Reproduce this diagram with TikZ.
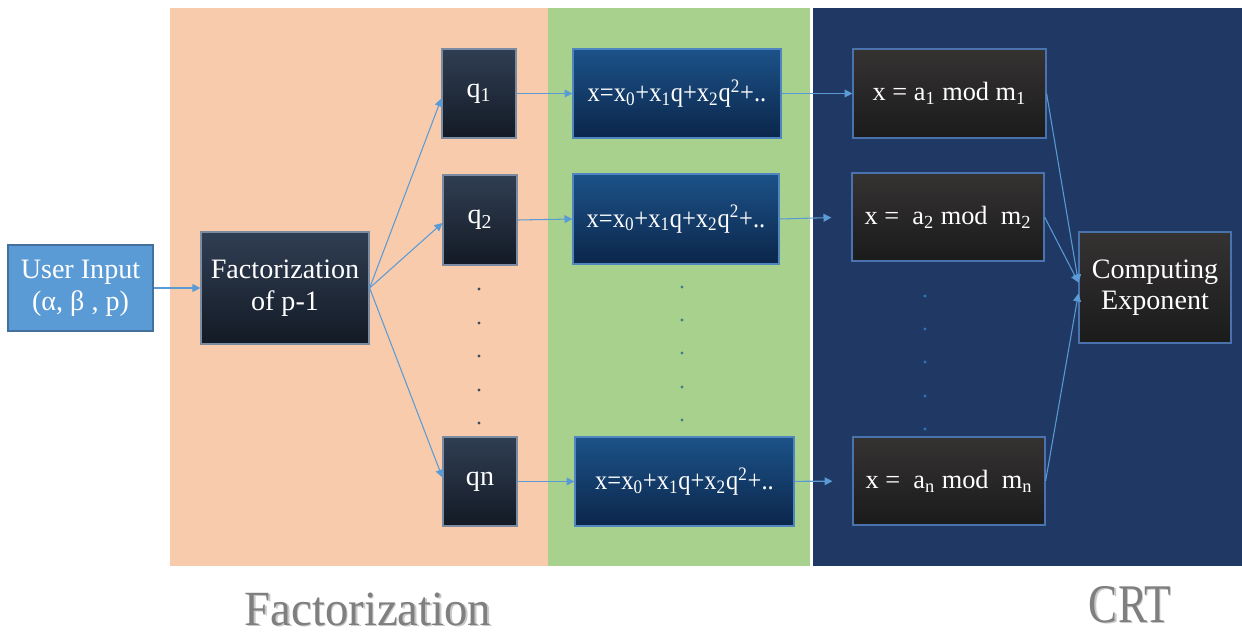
\documentclass[tikz,border=0pt]{standalone}
\usepackage{fontspec}
\setmainfont{Liberation Serif}
\usetikzlibrary{arrows.meta,calc}
\definecolor{peach}{HTML}{F8CBAD}
\definecolor{leaf}{HTML}{A9D18E}
\definecolor{navy}{HTML}{203864}
\definecolor{conn}{HTML}{5B9BD5}
\definecolor{userfill}{HTML}{5B9BD5}
\definecolor{useredge}{HTML}{41719C}
\definecolor{slatetop}{HTML}{303E53}
\definecolor{slatebot}{HTML}{131A25}
\definecolor{slateedge}{HTML}{7A8BA2}
\definecolor{bluetop}{HTML}{1C5289}
\definecolor{bluebot}{HTML}{0B264A}
\definecolor{blueedge}{HTML}{4F86C0}
\definecolor{graytop}{HTML}{353232}
\definecolor{graybot}{HTML}{1B1B1B}
\definecolor{grayedge}{HTML}{4A72AC}
\definecolor{labgray}{HTML}{7F7F7F}
\definecolor{labshadow}{HTML}{C8C8C8}
\definecolor{dotslate}{HTML}{3E4B5C}
\definecolor{dotgreen}{HTML}{3F7F8A}
\definecolor{dotnavy}{HTML}{2E75B6}
\newcommand{\formtext}{\scalebox{0.9}[1]{x=x\textsubscript{0}+x\textsubscript{1}q+x\textsubscript{2}q\textsuperscript{2}+..}}
\tikzset{
  basebox/.style={rectangle, inner sep=0pt, text=white, align=center,
    font=\fontsize{16}{18}\selectfont, line width=0.7pt},
  userbox/.style={basebox, draw=useredge, fill=userfill},
  slatebox/.style={basebox, draw=slateedge, top color=slatetop, bottom color=slatebot},
  formbox/.style={basebox, draw=blueedge, top color=bluetop, bottom color=bluebot,
    font=\fontsize{15.5}{18}\selectfont},
  modbox/.style={basebox, draw=grayedge, top color=graytop, bottom color=graybot,
    font=\fontsize{15}{18}\selectfont},
  compbox/.style={basebox, draw=grayedge, top color=graytop, bottom color=graybot},
  conn/.style={draw=conn, line width=0.6pt, -{Triangle[length=4.5pt,width=4.5pt]}},
  biglabel/.style={text=labgray, anchor=base, inner sep=0pt},
  bigshadow/.style={text=labshadow, anchor=base, inner sep=0pt}
}
\begin{document}
\begin{tikzpicture}[x=0.02cm,y=-0.02cm]
\useasboundingbox (0,0) rectangle (1242,636);
\fill[white] (0,0) rectangle (1242,636);
% background bands
\fill[peach] (170,8) rectangle (548,566);
\fill[leaf] (548,8) rectangle (810,566);
\fill[navy] (813,8) rectangle (1242,566);

% nodes
\node[userbox, minimum width=2.9cm, minimum height=1.72cm] (user) at (80.5,288) {User Input\\(α, β , p)};
\node[slatebox, minimum width=3.36cm, minimum height=2.24cm] (fact) at (285,288) {Factorization\\of p-1};

\node[slatebox, minimum width=1.48cm, minimum height=1.78cm] (q1) at (479,93.5) {q\textsubscript{1}};
\node[slatebox, minimum width=1.48cm, minimum height=1.8cm] (q2) at (480,220) {q\textsubscript{2}};
\node[slatebox, minimum width=1.48cm, minimum height=1.78cm] (qn) at (480,481.5) {qn};

\node[formbox, minimum width=4.16cm, minimum height=1.78cm] (f1) at (677,93.5) {\formtext};
\node[formbox, minimum width=4.12cm, minimum height=1.8cm] (f2) at (676,219) {\formtext};
\node[formbox, minimum width=4.38cm, minimum height=1.78cm] (fn) at (684.5,481.5) {\formtext};

\node[modbox, minimum width=3.86cm, minimum height=1.78cm] (m1) at (949.5,93.5) {x = a\textsubscript{1} mod m\textsubscript{1}};
\node[modbox, minimum width=3.84cm, minimum height=1.76cm] (m2) at (948,217) {x =~ a\textsubscript{2} mod~ m\textsubscript{2}};
\node[modbox, minimum width=3.84cm, minimum height=1.76cm] (mn) at (949,481) {x =~ a\textsubscript{n} mod~ m\textsubscript{n}};

\node[compbox, minimum width=3.04cm, minimum height=2.22cm] (comp) at (1155,287.5) {Computing\\Exponent};

% vertical dots
\foreach \yy in {289,323,356,390,423} \fill[dotslate] (479,\yy) circle (1.6);
\foreach \yy in {287,320,353,387,420} \fill[dotgreen] (682,\yy) circle (1.6);
\foreach \yy in {296,329,362,396,429} \fill[dotnavy] (925,\yy) circle (1.6);

% connectors
\draw[conn] (user) -- (fact);
\draw[conn] (fact.east) -- ($(q1.west)+(0,5)$);
\draw[conn] (fact.east) -- ($(q2.west)+(0,3)$);
\draw[conn] (fact.east) -- ($(qn.west)+(0,-4)$);

\draw[conn] (q1) -- (f1);
\draw[conn] (q2.east) -- (f2.west);
\draw[conn] (qn) -- (fn);

\draw[conn] (f1) -- (m1);
\draw[conn, shorten >=0.4cm] (f2.east) -- (m2.west);
\draw[conn, shorten >=0.4cm] (fn) -- (mn);

\draw[conn] (m1.east) -- ($(comp.west)+(0,-5)$);
\draw[conn] (m2.east) -- ($(comp.west)+(0,-5)$);
\draw[conn] (mn.east) -- ($(comp.west)+(0,6)$);

% bottom labels
\node[bigshadow] (labFshadow) at (369.5,626.5) {\fontsize{28}{32}\selectfont\scalebox{0.95}[1]{Factorization}};
\node[biglabel] (labF) at (368,625) {\fontsize{28}{32}\selectfont\scalebox{0.95}[1]{Factorization}};
\node[bigshadow] (labCshadow) at (1131.5,623.5) {\fontsize{31}{34}\selectfont\scalebox{0.8}[1]{CRT}};
\node[biglabel] (labC) at (1130,622) {\fontsize{31}{34}\selectfont\scalebox{0.8}[1]{CRT}};
\end{tikzpicture}
\end{document}
